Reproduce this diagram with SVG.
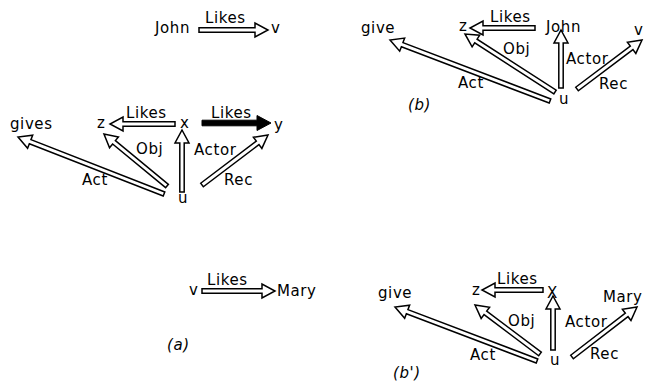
<svg xmlns="http://www.w3.org/2000/svg" width="647" height="383" viewBox="0 0 647 383">
  <style>
    text { font-family: "DejaVu Sans", "Liberation Sans", sans-serif; font-size: 15px; fill: #000; letter-spacing: 0.6px; }
    .cap { font-style: italic; font-size: 15px; }
    .hollow { fill: #fff; stroke: #000; stroke-width: 1.5; stroke-linejoin: miter; }
    .solid { fill: #000; stroke: #000; stroke-width: 1; }
  </style>
  <rect width="647" height="383" fill="#fff"/>

  <!-- connectors: hollow double-line arrows drawn along +x, then placed -->
  <g id="connectors">
    <!-- (a) top: John Likes v -->
    <polygon class="hollow" transform="translate(199,30)" points="0,-2.2 56,-2.2 56,-7 69,0 56,7 56,2.2 0,2.2"/>
    <!-- (a) x Likes z -->
    <polygon class="hollow" transform="translate(175,124) rotate(180)" points="0,-2.2 52,-2.2 52,-7 65,0 52,7 52,2.2 0,2.2"/>
    <!-- (a) x Likes y (solid) -->
    <polygon class="solid" transform="translate(202,123)" points="0,-2.8 55,-2.8 55,-7.5 69,0 55,7.5 55,2.8 0,2.8"/>
    <!-- (a) u Act gives -->
    <polygon class="hollow" transform="translate(164,194) rotate(-158.67)" points="0,-2.2 143.7,-2.2 143.7,-7 156.7,0 143.7,7 143.7,2.2 0,2.2"/>
    <!-- (a) u Obj z -->
    <polygon class="hollow" transform="translate(167,186) rotate(-140.5)" points="0,-2.2 68.7,-2.2 68.7,-7 81.7,0 68.7,7 68.7,2.2 0,2.2"/>
    <!-- (a) u Actor x -->
    <polygon class="hollow" transform="translate(182,192) rotate(-90)" points="0,-2.2 49,-2.2 49,-7 62,0 49,7 49,2.2 0,2.2"/>
    <!-- (a) u Rec y -->
    <polygon class="hollow" transform="translate(202,185) rotate(-37.15)" points="0,-2.2 69.8,-2.2 69.8,-7 82.8,0 69.8,7 69.8,2.2 0,2.2"/>
    <!-- (a) bottom: v Likes Mary -->
    <polygon class="hollow" transform="translate(202,291)" points="0,-2.2 60,-2.2 60,-7 73,0 60,7 60,2.2 0,2.2"/>

    <!-- (b) -->
    <polygon class="hollow" transform="translate(550,101) rotate(-159.13)" points="0,-2.2 158.2,-2.2 158.2,-7 171.2,0 158.2,7 158.2,2.2 0,2.2"/>
    <polygon class="hollow" transform="translate(555,92) rotate(-147.2)" points="0,-2.2 94.1,-2.2 94.1,-7 107.1,0 94.1,7 94.1,2.2 0,2.2"/>
    <polygon class="hollow" transform="translate(535,28) rotate(180)" points="0,-2.2 52,-2.2 52,-7 65,0 52,7 52,2.2 0,2.2"/>
    <polygon class="hollow" transform="translate(561,88) rotate(-90)" points="0,-2.2 45,-2.2 45,-7 58,0 45,7 45,2.2 0,2.2"/>
    <polygon class="hollow" transform="translate(577,89) rotate(-37)" points="0,-2.2 68.4,-2.2 68.4,-7 81.4,0 68.4,7 68.4,2.2 0,2.2"/>

    <!-- (b') -->
    <polygon class="hollow" transform="translate(537,361) rotate(-159.2)" points="0,-2.2 138.9,-2.2 138.9,-7 151.9,0 138.9,7 138.9,2.2 0,2.2"/>
    <polygon class="hollow" transform="translate(543,290) rotate(180)" points="0,-2.2 48,-2.2 48,-7 61,0 48,7 48,2.2 0,2.2"/>
    <polygon class="hollow" transform="translate(540,354) rotate(-143)" points="0,-2.2 68.4,-2.2 68.4,-7 81.4,0 68.4,7 68.4,2.2 0,2.2"/>
    <polygon class="hollow" transform="translate(553,350) rotate(-90)" points="0,-2.2 41,-2.2 41,-7 54,0 41,7 41,2.2 0,2.2"/>
    <polygon class="hollow" transform="translate(572,357) rotate(-37.57)" points="0,-2.2 69,-2.2 69,-7 82,0 69,7 69,2.2 0,2.2"/>

    <!-- connector labels -->
    <g id="edge-labels">
      <text x="205" y="23">Likes</text>
      <text x="126" y="118">Likes</text>
      <text x="211" y="118">Likes</text>
      <text x="82" y="185">Act</text>
      <text x="136" y="154">Obj</text>
      <text x="194" y="155">Actor</text>
      <text x="224" y="185">Rec</text>
      <text x="207" y="285">Likes</text>

      <text x="490" y="22">Likes</text>
      <text x="458" y="88">Act</text>
      <text x="503" y="54">Obj</text>
      <text x="566" y="64">Actor</text>
      <text x="599" y="89">Rec</text>

      <text x="497" y="284">Likes</text>
      <text x="470" y="360">Act</text>
      <text x="508" y="326">Obj</text>
      <text x="565" y="327">Actor</text>
      <text x="590" y="359">Rec</text>
    </g>
  </g>

  <!-- nodes of (a) -->
  <g id="a-john"><text x="155" y="33">John</text></g>
  <g id="a-v-top"><text x="271" y="33">v</text></g>
  <g id="a-gives"><text x="10" y="129">gives</text></g>
  <g id="a-z"><text x="97" y="128">z</text></g>
  <g id="a-x"><text x="180" y="128">x</text></g>
  <g id="a-y"><text x="274" y="130">y</text></g>
  <g id="a-u"><text x="178" y="203">u</text></g>
  <g id="a-v-bottom"><text x="189" y="295">v</text></g>
  <g id="a-mary"><text x="277" y="296">Mary</text></g>
  <g id="a-caption"><text class="cap" x="167" y="350">(a)</text></g>

  <!-- nodes of (b) -->
  <g id="b-give"><text x="361" y="33">give</text></g>
  <g id="b-z"><text x="459" y="31">z</text></g>
  <g id="b-john"><text x="546" y="32">John</text></g>
  <g id="b-v"><text x="634" y="35">v</text></g>
  <g id="b-u"><text x="559" y="104">u</text></g>
  <g id="b-caption"><text class="cap" x="408" y="110">(b)</text></g>

  <!-- nodes of (b') -->
  <g id="bp-give"><text x="378" y="298">give</text></g>
  <g id="bp-z"><text x="472" y="295">z</text></g>
  <g id="bp-x"><text x="547" y="298">X</text></g>
  <g id="bp-mary"><text x="603" y="302">Mary</text></g>
  <g id="bp-u"><text x="550" y="365">u</text></g>
  <g id="bp-caption"><text class="cap" x="393" y="378">(b')</text></g>
</svg>
